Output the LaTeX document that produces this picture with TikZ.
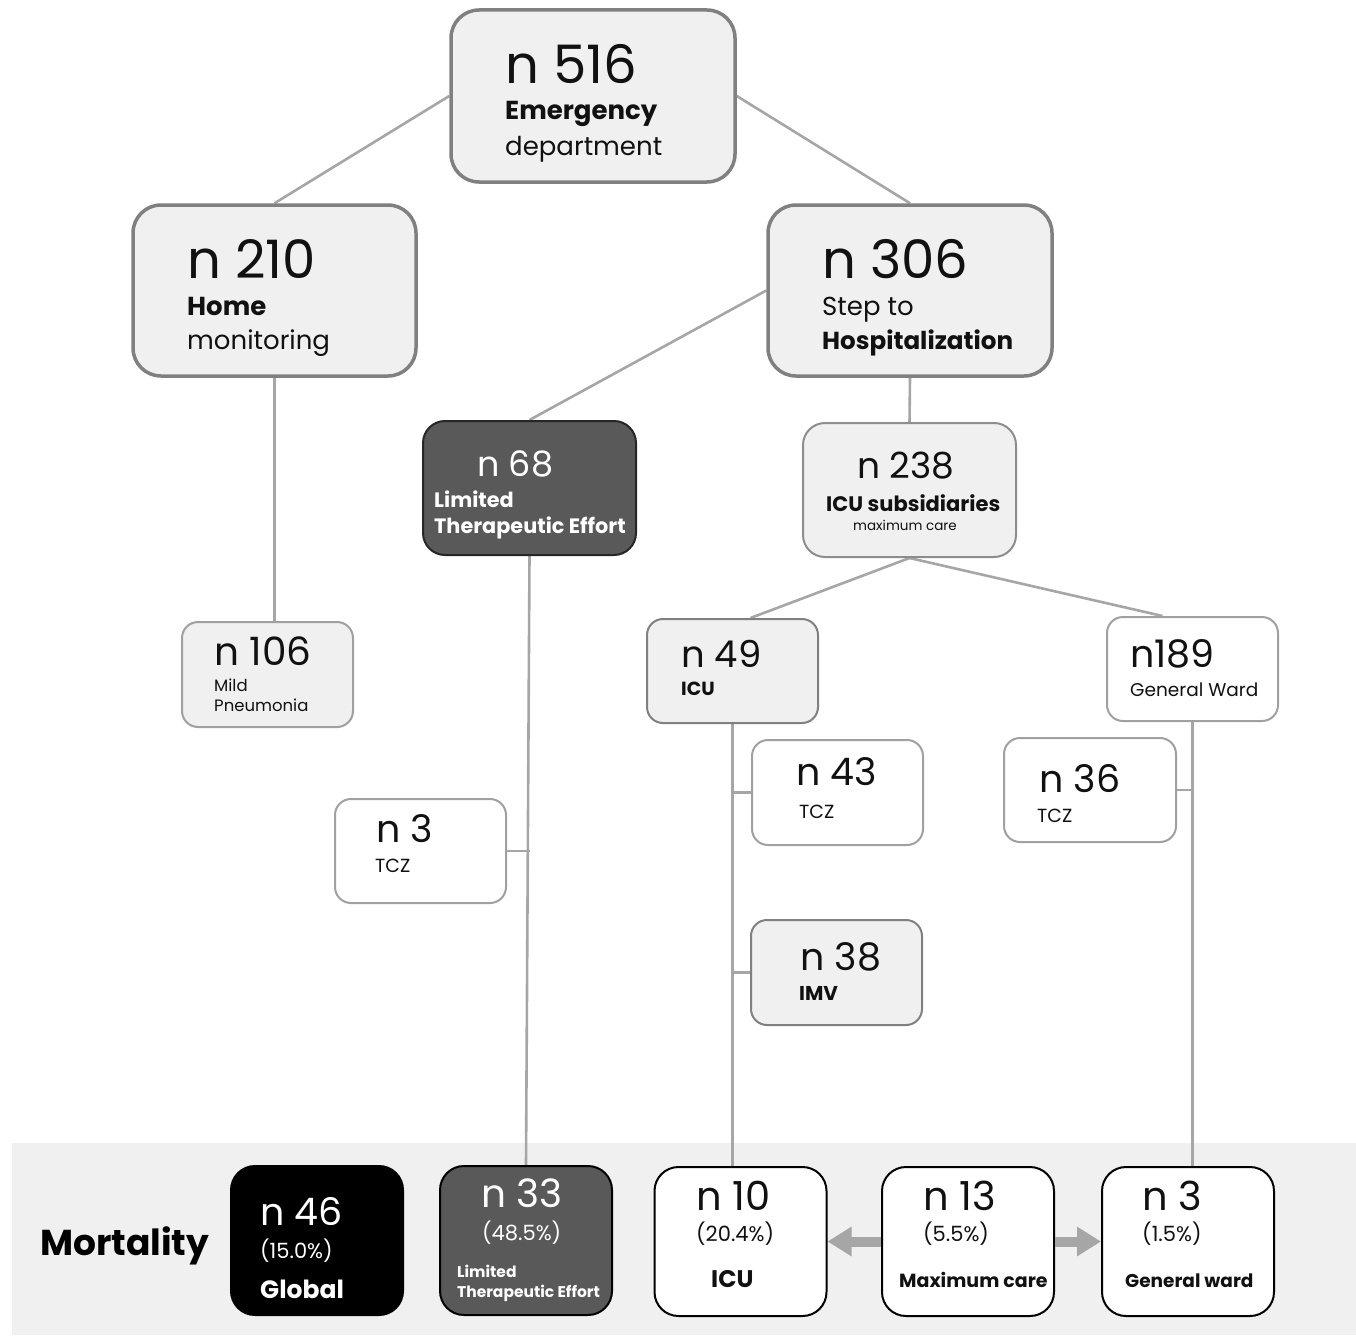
\documentclass[tikz,border=0pt]{standalone}
\usepackage{fontspec}
\setmainfont{Poppins}
\usetikzlibrary{backgrounds,arrows.meta,calc}
\definecolor{lightfill}{HTML}{F0F0F0}
\definecolor{darkfill}{HTML}{595959}
\definecolor{conncol}{HTML}{A6A6A6}
\definecolor{bordgray}{HTML}{808080}
\definecolor{bordlight}{HTML}{A0A0A0}
\definecolor{txtcol}{HTML}{111111}
\newcommand{\myfs}[1]{\fontsize{#1}{#1}\selectfont}
\tikzset{
  bigbox/.style={draw=bordgray, line width=3.5pt, fill=lightfill, rounded corners=28pt, inner sep=0pt},
  midbox/.style={line width=2pt, rounded corners=22pt, inner sep=0pt},
  smallbox/.style={draw=bordlight, line width=2pt, rounded corners=16pt, inner sep=0pt},
  mortbox/.style={draw=black, line width=2pt, rounded corners=24pt, inner sep=0pt, minimum width=172pt, minimum height=149pt},
  conn/.style={draw=conncol, line width=2.6pt},
  fatarrow/.style={draw=conncol, line width=10pt, -{Triangle[length=24pt,width=28pt]}},
  tt/.style={anchor=base west, inner sep=0pt, text=txtcol},
}
\begin{document}
\begin{tikzpicture}[x=1pt,y=-1pt]
\useasboundingbox (0,0) rectangle (1356,1335);
% boxes
\node[bigbox, minimum width=284pt, minimum height=172pt] (ed) at (593,96) {};
\node[bigbox, minimum width=283pt, minimum height=171pt] (home) at (274.5,290.5) {};
\node[bigbox, minimum width=284pt, minimum height=171pt] (hosp) at (910,290.5) {};
\node[midbox, draw=black!85, fill=darkfill, minimum width=213pt, minimum height=134pt] (lte) at (529.5,488) {};
\node[midbox, draw=bordgray!90, fill=lightfill, minimum width=213pt, minimum height=134pt] (icus) at (909.5,490) {};
\node[smallbox, fill=lightfill, minimum width=171pt, minimum height=105pt] (mild) at (267.5,674.5) {};
\node[smallbox, draw=bordgray, fill=lightfill, minimum width=171pt, minimum height=104pt] (icu) at (732.5,671) {};
\node[smallbox, fill=white, minimum width=171pt, minimum height=104pt] (gw) at (1192.5,669) {};
\node[smallbox, fill=white, minimum width=171pt, minimum height=105pt] (tczA) at (837.5,792.5) {};
\node[smallbox, fill=white, minimum width=172pt, minimum height=104pt] (tczB) at (1090,790) {};
\node[smallbox, fill=white, minimum width=171pt, minimum height=104pt] (tczC) at (420.5,851) {};
\node[smallbox, draw=bordgray, fill=lightfill, minimum width=171pt, minimum height=105pt] (imv) at (836.5,972.5) {};
% mortality boxes
\node[mortbox, fill=black] (mglobal) at (317,1240.5) {};
\node[mortbox, fill=darkfill] (mlte) at (526,1240.5) {};
\node[mortbox, fill=white] (micu) at (740.5,1241.5) {};
\node[mortbox, fill=white] (mmax) at (968,1241.5) {};
\node[mortbox, fill=white] (mgw) at (1188,1241.5) {};
% background band and connectors
\begin{pgfonlayer}{background}
\fill[lightfill] (12,1143) rectangle (1356,1335);
\draw[conn] (ed.west) -- (home.north);
\draw[conn] (ed.east) -- (hosp.north);
\draw[conn] (home.south) -- (home.south |- mild.north);
\draw[conn] (hosp.west) -- (lte.north);
\draw[conn] (hosp.south) -- (icus.north);
\draw[conn] (icus.south) -- ($(icu.north)+(18,0)$);
\draw[conn] (icus.south) -- ($(gw.north)+(-30,0)$);
\draw[conn] (lte.south) -- (mlte.north);
\draw[conn] (tczC.east) -- (tczC.east -| lte.south);
\draw[conn] (icu.south) -- (icu.south |- micu.north);
\draw[conn] (tczA.west) -- (tczA.west -| icu.south);
\draw[conn] (imv.west) -- (imv.west -| icu.south);
\draw[conn] (gw.south) -- (gw.south |- mgw.north);
\draw[conn] (tczB.east) -- (tczB.east -| gw.south);
\end{pgfonlayer}
\draw[fatarrow] (mmax.west) -- (micu.east);
\draw[fatarrow] (mmax.east) -- (mgw.west);
% texts: top
\node[tt] (edn) at (505,84) {\myfs{53}n 516};
\node[tt] (edl1) at (505,120) {\myfs{26}\bfseries Emergency};
\node[tt] (edl2) at (505,155) {\myfs{26}department};
\node[tt] (homen) at (187,278) {\myfs{53}n 210};
\node[tt] (homel1) at (187,315) {\myfs{26}\bfseries Home};
\node[tt] (homel2) at (187,349) {\myfs{26}monitoring};
\node[tt] (hospn) at (822,278) {\myfs{53}n 306};
\node[tt] (hospl1) at (822,315) {\myfs{26}Step to};
\node[tt] (hospl2) at (822,349) {\myfs{24.6}\bfseries Hospitalization};
\node[tt, text=white] (lten) at (477,476) {\myfs{35}n 68};
\node[tt, text=white] (ltel1) at (434,507) {\myfs{20.8}\bfseries Limited};
\node[tt, text=white] (ltel2) at (434,533) {\myfs{20.8}\bfseries Therapeutic Effort};
\node[tt] (icusn) at (857,478) {\myfs{36}n 238};
\node[tt] (icusl1) at (826,511) {\myfs{21}\bfseries ICU subsidiaries};
\node[tt] (icusl2) at (853,530) {\myfs{13.5}maximum care};
\node[tt] (mildn) at (214,665) {\myfs{39}n 106};
\node[tt] (mildl1) at (214,691) {\myfs{16.5}Mild};
\node[tt] (mildl2) at (214,711) {\myfs{16.5}Pneumonia};
\node[tt] (icun) at (681,667) {\myfs{37}n 49};
\node[tt] (icul) at (681,695) {\myfs{19}\bfseries ICU};
\node[tt] (gwn) at (1130,667) {\myfs{38}n189};
\node[tt] (gwl) at (1130,696) {\myfs{18.5}General Ward};
\node[tt] (tczAn) at (796,785) {\myfs{38}n 43};
\node[tt] (tczAl) at (799,818) {\myfs{19}TCZ};
\node[tt] (tczBn) at (1039,792) {\myfs{38}n 36};
\node[tt] (tczBl) at (1037,822) {\myfs{19}TCZ};
\node[tt] (tczCn) at (376,842) {\myfs{38}n 3};
\node[tt] (tczCl) at (375,872) {\myfs{19}TCZ};
\node[tt] (imvn) at (800,970) {\myfs{38}n 38};
\node[tt] (imvl) at (799,1000) {\myfs{20}\bfseries IMV};
% mortality texts
\node[tt, text=black] (mort) at (40,1255) {\myfs{36}\bfseries Mortality};
\node[tt, text=white] (mgn) at (260,1225) {\myfs{38}n 46};
\node[tt, text=white] (mgp) at (260,1258) {\myfs{21}(15.0\%)};
\node[tt, text=white] (mgl) at (260,1298) {\myfs{25}\bfseries Global};
\node[tt, text=white] (mln) at (481,1207) {\myfs{39}n 33};
\node[tt, text=white] (mlp) at (482,1240) {\myfs{21}(48.5\%)};
\node[tt, text=white] (mll1) at (457,1277) {\myfs{15.5}\bfseries Limited};
\node[tt, text=white] (mll2) at (457,1297) {\myfs{15.5}\bfseries Therapeutic Effort};
\node[tt] (micn) at (696,1210) {\myfs{40}n 10};
\node[tt] (micp) at (696,1241) {\myfs{21}(20.4\%)};
\node[tt] (micl) at (711,1287) {\myfs{24}\bfseries ICU};
\node[tt] (mmxn) at (923,1210) {\myfs{40}n 13};
\node[tt] (mmxp) at (923,1241) {\myfs{21}(5.5\%)};
\node[tt] (mmxl) at (899,1287) {\myfs{19}\bfseries Maximum care};
\node[tt] (mgwn) at (1142,1210) {\myfs{40}n 3};
\node[tt] (mgwp) at (1142,1241) {\myfs{21}(1.5\%)};
\node[tt] (mgwl) at (1125,1287) {\myfs{18.5}\bfseries General ward};
\end{tikzpicture}
\end{document}
